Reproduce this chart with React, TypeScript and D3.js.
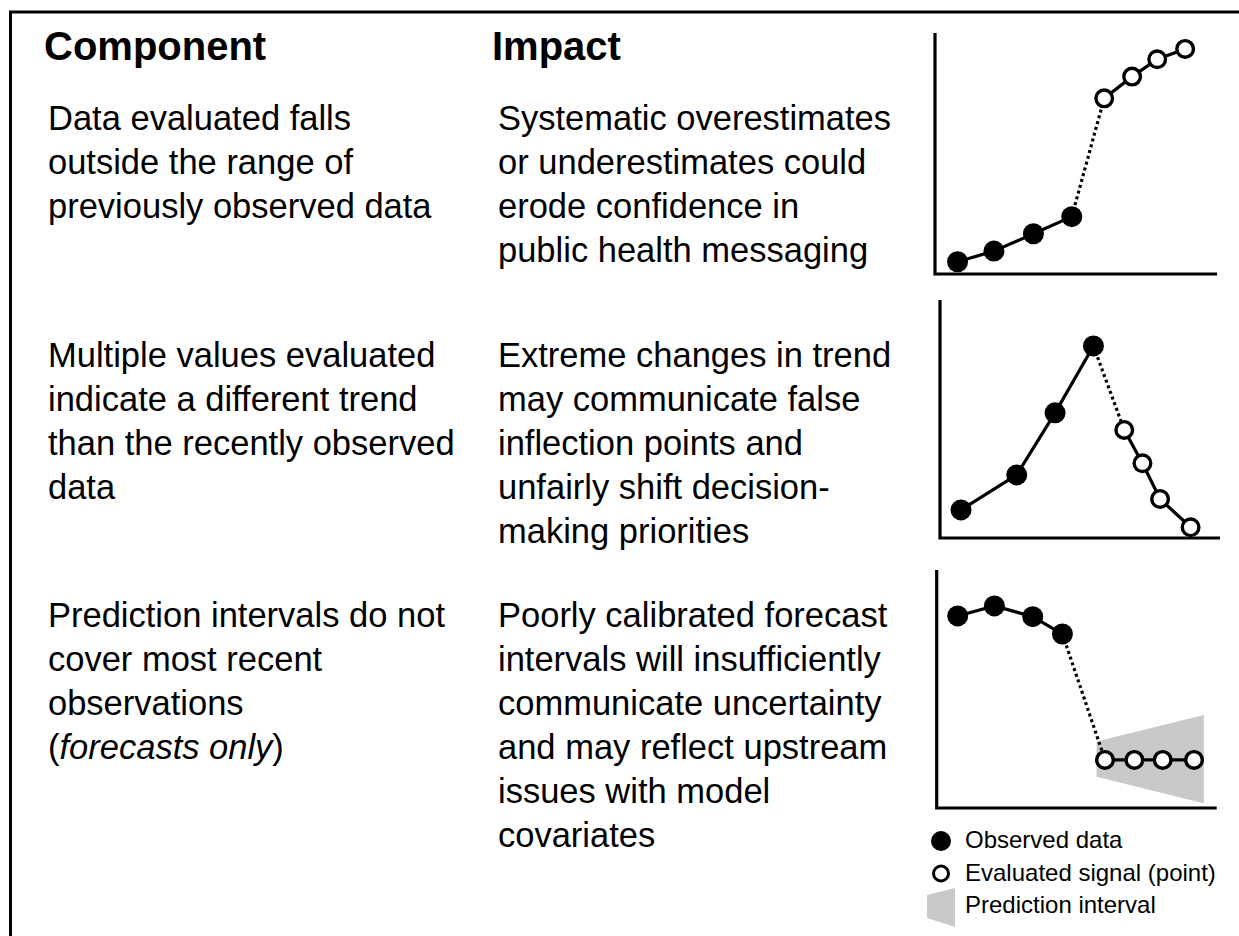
import React from "react";
import * as d3 from "d3";

// ---------- text content ----------
const headers = ["Component", "Impact"];
const componentLines: string[][] = [
  ["Data evaluated falls", "outside the range of", "previously observed data"],
  ["Multiple values evaluated", "indicate a different trend", "than the recently observed", "data"],
  ["Prediction intervals do not", "cover most recent", "observations", "(*forecasts only*)"],
];
const impactLines: string[][] = [
  ["Systematic overestimates", "or underestimates could", "erode confidence in", "public health messaging"],
  ["Extreme changes in trend", "may communicate false", "inflection points and", "unfairly shift decision-", "making priorities"],
  ["Poorly calibrated forecast", "intervals will insufficiently", "communicate uncertainty", "and may reflect upstream", "issues with model", "covariates"],
];
const legendLabels = ["Observed data", "Evaluated signal (point)", "Prediction interval"];

// ---------- panel data (x, y on a 0-100 scale) ----------
const p1ObservedX = [8.0, 20.9, 34.9, 48.5];
const p1ObservedY = [5.1, 9.5, 16.7, 23.8];
const p1SignalX = [60.0, 69.9, 78.8, 88.7];
const p1SignalY = [72.9, 81.9, 89.1, 93.4];

const p2ObservedX = [7.5, 27.4, 41.1, 54.8];
const p2ObservedY = [11.8, 26.5, 52.6, 80.7];
const p2SignalX = [65.8, 72.3, 78.6, 89.5];
const p2SignalY = [45.4, 31.4, 16.4, 4.5];

const p3ObservedX = [7.5, 20.6, 34.3, 44.9];
const p3ObservedY = [80.7, 84.9, 80.4, 73.1];
const p3SignalX = [60.1, 70.6, 80.7, 91.9];
const p3SignalY = [20.2, 20.2, 20.2, 20.2];
const p3IntervalX = [57.1, 95.4];
const p3IntervalLower = [13.1, 2.0];
const p3IntervalUpper = [27.9, 39.1];

// ---------- layout ----------
const W = 1239;
const H = 936;
const FONT = "'Liberation Sans', Arial, Helvetica, sans-serif";
const headerSize = 40;
const bodySize = 34.5;
const lineH = 44;
const colX = [48, 498];
const headerX = [44, 492];
const headerY = 60;
const rowY = [130, 367, 627];

type Frame = { left: number; right: number; top: number; bottom: number };
const frames: Frame[] = [
  { left: 935, right: 1217, top: 33, bottom: 274 },
  { left: 940, right: 1220, top: 300, bottom: 538 },
  { left: 936.7, right: 1216.7, top: 570, bottom: 808 },
];

type PanelProps = {
  frame: Frame;
  obsX: number[];
  obsY: number[];
  sigX: number[];
  sigY: number[];
  bandX?: number[];
  bandLo?: number[];
  bandHi?: number[];
};

function Panel({ frame, obsX, obsY, sigX, sigY, bandX, bandLo, bandHi }: PanelProps) {
  const x = d3.scaleLinear().domain([0, 100]).range([frame.left, frame.right]);
  const y = d3.scaleLinear().domain([0, 100]).range([frame.bottom, frame.top]);
  const line = d3
    .line<[number, number]>()
    .x((d) => x(d[0]))
    .y((d) => y(d[1]));
  const obs: [number, number][] = obsX.map((v, i) => [v, obsY[i]]);
  const sig: [number, number][] = sigX.map((v, i) => [v, sigY[i]]);
  const bridge: [number, number][] = [obs[obs.length - 1], sig[0]];
  let band: string | null = null;
  if (bandX && bandLo && bandHi) {
    const area = d3
      .area<number>()
      .x((d) => x(d))
      .y0((_, i) => y(bandLo[i]))
      .y1((_, i) => y(bandHi[i]));
    band = area(bandX);
  }
  return (
    <g>
      {band && <path d={band} fill="#c9c9c9" />}
      <path
        d={`M${x(0)},${y(100)}V${y(0)}H${x(100)}`}
        fill="none"
        stroke="#000"
        strokeWidth={3.2}
      />
      <path d={line(bridge) || ""} fill="none" stroke="#000" strokeWidth={3.2} strokeDasharray="3 3" />
      <path d={line(obs) || ""} fill="none" stroke="#000" strokeWidth={3.2} />
      <path d={line(sig) || ""} fill="none" stroke="#000" strokeWidth={3.2} />
      {obs.map((d, i) => (
        <circle key={"o" + i} cx={x(d[0])} cy={y(d[1])} r={10.5} fill="#000" />
      ))}
      {sig.map((d, i) => (
        <circle key={"s" + i} cx={x(d[0])} cy={y(d[1])} r={8.3} fill="#fff" stroke="#000" strokeWidth={3.4} />
      ))}
    </g>
  );
}

function TextLine({ x, y, text }: { x: number; y: number; text: string }) {
  const parts = text.split("*");
  return (
    <text x={x} y={y} fontFamily={FONT} fontSize={bodySize} fill="#000">
      {parts.map((p, i) => (
        <tspan key={i} fontStyle={i % 2 === 1 ? "italic" : "normal"}>
          {p}
        </tspan>
      ))}
    </text>
  );
}

export default function App() {
  const legendX = 941;
  const legendTextX = 965;
  const legendRowY = [848, 880.5, 913];
  return (
    <div style={{ position: "absolute", left: 0, top: 0 }}>
      <svg width={W} height={H} viewBox={`0 0 ${W} ${H}`} style={{ display: "block", background: "#fff" }}>
        <rect x={0} y={0} width={W} height={H} fill="#fff" />
        {/* frame border */}
        <path d={`M${W + 5},12V12H10.5V${H + 5}`} fill="none" stroke="#000" strokeWidth={3} />

        {headers.map((h, i) => (
          <text key={h} x={headerX[i]} y={headerY} fontFamily={FONT} fontSize={headerSize} fontWeight="bold">
            {h}
          </text>
        ))}

        {componentLines.map((lines, r) =>
          lines.map((t, j) => <TextLine key={`c${r}-${j}`} x={colX[0]} y={rowY[r] + j * lineH} text={t} />)
        )}
        {impactLines.map((lines, r) =>
          lines.map((t, j) => <TextLine key={`i${r}-${j}`} x={colX[1]} y={rowY[r] + j * lineH} text={t} />)
        )}

        <Panel frame={frames[0]} obsX={p1ObservedX} obsY={p1ObservedY} sigX={p1SignalX} sigY={p1SignalY} />
        <Panel frame={frames[1]} obsX={p2ObservedX} obsY={p2ObservedY} sigX={p2SignalX} sigY={p2SignalY} />
        <Panel
          frame={frames[2]}
          obsX={p3ObservedX}
          obsY={p3ObservedY}
          sigX={p3SignalX}
          sigY={p3SignalY}
          bandX={p3IntervalX}
          bandLo={p3IntervalLower}
          bandHi={p3IntervalUpper}
        />

        {/* legend */}
        <circle cx={legendX} cy={legendRowY[0] - 7} r={10} fill="#000" />
        <circle cx={legendX} cy={legendRowY[1] - 7} r={7.5} fill="#fff" stroke="#000" strokeWidth={3} />
        <path
          d={`M${legendX - 14},${legendRowY[2] - 18}L${legendX + 14},${legendRowY[2] - 25}V${legendRowY[2] + 14}L${legendX - 14},${legendRowY[2] + 5}Z`}
          fill="#c9c9c9"
        />
        {legendLabels.map((l, i) => (
          <text key={l} x={legendTextX} y={legendRowY[i]} fontFamily={FONT} fontSize={24} fill="#000">
            {l}
          </text>
        ))}
      </svg>
    </div>
  );
}
